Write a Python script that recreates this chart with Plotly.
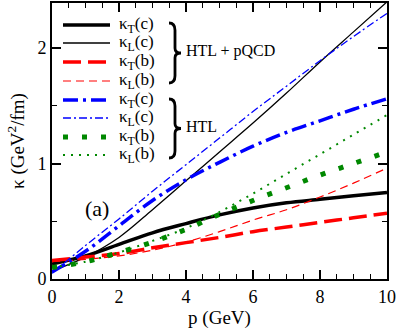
import plotly.graph_objects as go

# momentum grid (GeV)
p = [0, 1, 2, 3, 4, 5, 6, 7, 8, 9, 10]

# HTL + pQCD
kT_c_pqcd = [0.13, 0.20, 0.30, 0.40, 0.48, 0.555, 0.615, 0.66, 0.69, 0.72, 0.75]
kL_c_pqcd = [0.07, 0.19, 0.36, 0.60, 0.85, 1.10, 1.35, 1.61, 1.88, 2.14, 2.40]
kT_b_pqcd = [0.16, 0.19, 0.22, 0.27, 0.315, 0.36, 0.41, 0.45, 0.49, 0.53, 0.57]
kL_b_pqcd = [0.15, 0.17, 0.20, 0.25, 0.32, 0.41, 0.51, 0.60, 0.71, 0.83, 0.96]

# HTL only
kT_c_htl = [0.06, 0.24, 0.46, 0.68, 0.86, 1.01, 1.15, 1.27, 1.37, 1.47, 1.56]
kL_c_htl = [0.05, 0.29, 0.52, 0.76, 0.99, 1.22, 1.45, 1.67, 1.89, 2.10, 2.30]
kT_b_htl = [0.10, 0.15, 0.23, 0.32, 0.43, 0.56, 0.68, 0.79, 0.90, 1.00, 1.10]
kL_b_htl = [0.10, 0.15, 0.23, 0.33, 0.44, 0.58, 0.74, 0.91, 1.08, 1.25, 1.42]

labels = ["κ<sub>T</sub>(c)", "κ<sub>L</sub>(c)", "κ<sub>T</sub>(b)", "κ<sub>L</sub>(b)",
          "κ<sub>T</sub>(c)", "κ<sub>L</sub>(c)", "κ<sub>T</sub>(b)", "κ<sub>L</sub>(b)"]
series = [kT_c_pqcd, kL_c_pqcd, kT_b_pqcd, kL_b_pqcd,
          kT_c_htl, kL_c_htl, kT_b_htl, kL_b_htl]

styles = [
    dict(color="black", width=3.5, dash="solid"),
    dict(color="black", width=1.3, dash="solid"),
    dict(color="red", width=3.5, dash="18px,7px"),
    dict(color="red", width=1.2, dash="8px,5px"),
    dict(color="blue", width=3.5, dash="15px,5px,3px,5px"),
    dict(color="blue", width=1.3, dash="8px,3px,2px,3px"),
    dict(color="#008800", width=5, dash="5px,14px"),
    dict(color="#008800", width=2, dash="2px,6px"),
]

SERIF = "Liberation Serif"

W, H = 399, 330
L, R, T, B = 52, 12, 3, 51
pw, ph = W - L - R, H - T - B

def px(x):
    return (x - L) / pw

def py(y):
    return (H - B - y) / ph

fig = go.Figure()
for ys, st in zip(series, styles):
    fig.add_trace(go.Scatter(x=p, y=ys, mode="lines", line=st,
                             line_shape="spline", showlegend=False))

shapes = []
annotations = []
rows = [25, 43, 62, 81, 100, 118, 137, 155]
for yr, st, lab in zip(rows, styles, labels):
    shapes.append(dict(type="line", xref="paper", yref="paper",
                       x0=px(63), x1=px(110), y0=py(yr), y1=py(yr), line=st))
    annotations.append(dict(text=lab, xref="paper", yref="paper", x=px(117), y=py(yr),
                            xanchor="left", yanchor="middle", showarrow=False,
                            font=dict(family=SERIF, size=17, color="black")))

def brace(x0, y0, y1, w=12):
    ym = (y0 + y1) / 2
    h = y1 - y0
    xm = x0 + w / 2
    pts = [(x0, y0), (xm, y0), (xm, y0 + h * 0.12), (xm, ym - h * 0.08), (xm, ym), (x0 + w, ym),
           (xm, ym), (xm, ym + h * 0.08), (xm, y1 - h * 0.12), (xm, y1), (x0, y1)]
    q = [(px(a), py(b)) for a, b in pts]
    return (f"M {q[0][0]},{q[0][1]} Q {q[1][0]},{q[1][1]} {q[2][0]},{q[2][1]} "
            f"L {q[3][0]},{q[3][1]} Q {q[4][0]},{q[4][1]} {q[5][0]},{q[5][1]} "
            f"Q {q[6][0]},{q[6][1]} {q[7][0]},{q[7][1]} L {q[8][0]},{q[8][1]} "
            f"Q {q[9][0]},{q[9][1]} {q[10][0]},{q[10][1]}")

for y0, y1 in [(23, 83), (99, 158)]:
    shapes.append(dict(type="path", xref="paper", yref="paper", path=brace(169, y0, y1),
                       line=dict(color="black", width=2.8)))

annotations.append(dict(text="HTL + pQCD", xref="paper", yref="paper", x=px(184), y=py(51),
                        xanchor="left", yanchor="middle", showarrow=False,
                        font=dict(family=SERIF, size=16, color="black")))
annotations.append(dict(text="HTL", xref="paper", yref="paper", x=px(184), y=py(126),
                        xanchor="left", yanchor="middle", showarrow=False,
                        font=dict(family=SERIF, size=16, color="black")))
annotations.append(dict(text="(a)", xref="paper", yref="paper", x=px(97), y=py(208),
                        xanchor="center", yanchor="middle", showarrow=False,
                        font=dict(family=SERIF, size=22, color="black")))

axis_common = dict(showline=True, linecolor="black", linewidth=2, mirror="allticks",
                   ticks="inside", ticklen=9, tickwidth=1.5, tickcolor="black",
                   showgrid=False, zeroline=False, automargin=False,
                   tickfont=dict(family=SERIF, size=18, color="black"),
                   minor=dict(ticks="inside", ticklen=5, tickwidth=1.2, tickcolor="black"))

fig.update_xaxes(range=[0, 10], dtick=2, minor_dtick=0.5,
                 title=dict(text="p (GeV)", font=dict(family=SERIF, size=19, color="black"), standoff=4),
                 **axis_common)
fig.update_yaxes(range=[0, 2.39], dtick=1, minor_dtick=0.5,
                 title=dict(text="κ (GeV<sup>2</sup>/fm)", font=dict(family=SERIF, size=19, color="black"), standoff=8),
                 **axis_common)

fig.update_layout(width=W, height=H, margin=dict(l=L, r=R, t=T, b=B),
                  plot_bgcolor="white", paper_bgcolor="white",
                  font=dict(family=SERIF, color="black"),
                  shapes=shapes, annotations=annotations)

# page body has a default 8px margin; drop it so the figure sits at the window origin
fig.write_html("out.html", config={"displayModeBar": False},
               post_script="document.body.style.margin='0';")
